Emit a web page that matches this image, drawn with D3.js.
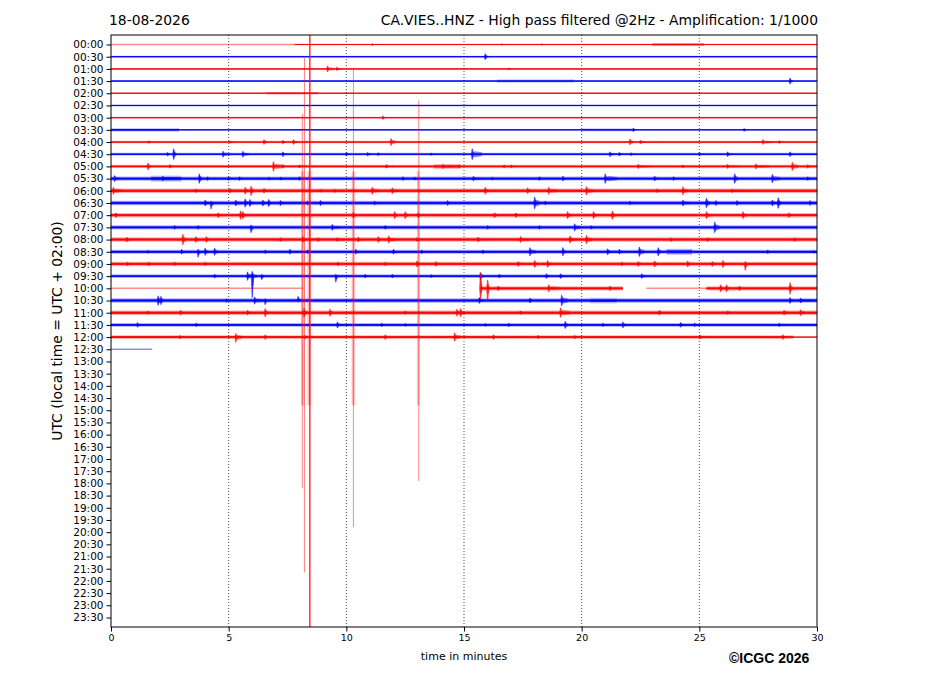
<!DOCTYPE html>
<html>
<head>
<meta charset="utf-8">
<script src="https://cdn.jsdelivr.net/npm/d3@7"></script>
<style>
  body { margin: 0; background: #fff; }
  text { font-family: "DejaVu Sans", sans-serif; fill: #000; }
</style>
</head>
<body>
<div id="chart"></div>
<script>
// Row labels (UTC, every 30 minutes)
const rowLabels = [
  "00:00","00:30","01:00","01:30","02:00","02:30","03:00","03:30",
  "04:00","04:30","05:00","05:30","06:00","06:30","07:00","07:30",
  "08:00","08:30","09:00","09:30","10:00","10:30","11:00","11:30",
  "12:00","12:30","13:00","13:30","14:00","14:30","15:00","15:30",
  "16:00","16:30","17:00","17:30","18:00","18:30","19:00","19:30",
  "20:00","20:30","21:00","21:30","22:00","22:30","23:00","23:30"
];
const minuteTicks = [0, 5, 10, 15, 20, 25, 30];
const gridMinutes = [5, 10, 15, 20, 25];

// Background noise level per row: [fromMinute, toMinute, amplitude (counts)]
const noiseSegments = [
  [[7.8, 23.0, 35], [23.0, 25.2, 80], [25.2, 30, 40]],          // 00:00
  [[0, 30, 50]],                                                 // 00:30
  [[0, 30, 50]],                                                 // 01:00
  [[0, 16.4, 55], [16.4, 19.7, 80], [19.7, 30, 55]],             // 01:30
  [[0, 6.6, 45], [6.6, 8.8, 70], [8.8, 30, 45]],                 // 02:00
  [[0, 30, 50]],                                                 // 02:30
  [[0, 30, 50]],                                                 // 03:00
  [[0, 2.9, 85], [2.9, 20, 50], [20, 22.2, 75], [22.2, 30, 50]], // 03:30
  [[0, 30, 65]],                                                 // 04:00
  [[0, 30, 75]],                                                 // 04:30
  [[0, 13.7, 90], [13.7, 14.8, 130], [14.8, 30, 95]],            // 05:00
  [[0, 1.7, 120], [1.7, 3.0, 160], [3.0, 30, 110]],              // 05:30
  [[0, 30, 125]],                                                // 06:00
  [[0, 30, 120]],                                                // 06:30
  [[0, 30, 120]],                                                // 07:00
  [[0, 30, 110]],                                                // 07:30
  [[0, 30, 125]],                                                // 08:00
  [[0, 23.6, 115], [23.6, 24.7, 160], [24.7, 30, 115]],          // 08:30
  [[0, 30, 120]],                                                // 09:00
  [[0, 30, 100]],                                                // 09:30
  [[15.7, 21.75, 115], [25.3, 30, 115]],                         // 10:00
  [[0, 20.35, 125], [20.35, 21.5, 150], [21.5, 30, 125]],        // 10:30
  [[0, 30, 125]],                                                // 11:00
  [[0, 30, 100]],                                                // 11:30
  [[0, 29.0, 105], [29.0, 30, 40]],                              // 12:00
  []                                                             // 12:30
];

// Flat (dead) stretches of signal: [row, fromMinute, toMinute]
const flatSpans = [[0, 0, 7.8], [20, 0, 8.15], [20, 22.75, 25.3], [25, 0, 1.75]];

// Local events per row: [minute, amplitude up, duration (min), amplitude down]
const bursts = [
  [[11.1, 80, 0.3], [16.6, 60, 0.1], [18.3, 60, 0.1]],
  [[15.9, 250, 0.12]],
  [[9.2, 250, 0.3], [9.6, 150, 0.15], [16.9, 80, 0.1]],
  [[28.85, 250, 0.12]],
  [],
  [],
  [[11.55, 150, 0.12]],
  [[22.2, 150, 0.12], [26.9, 120, 0.1]],
  [[1.6, 100, 0.1], [5.06, 100, 0.1], [6.5, 200, 0.15], [7.3, 150, 0.12], [7.75, 200, 0.15], [11.9, 300, 0.2],
   [22.05, 250, 0.15], [22.5, 150, 0.2], [27.7, 200, 0.4], [28.4, 120, 0.15]],
  [[2.4, 150, 0.1], [2.66, 450, 0.1], [4.76, 250, 0.3], [5.6, 250, 0.25], [7.3, 200, 0.15], [10.0, 150, 0.12],
   [10.9, 150, 0.2], [11.35, 120, 0.1], [13.6, 100, 0.1], [15.35, 450, 0.4], [21.2, 200, 0.2], [21.6, 150, 0.15],
   [22.1, 120, 0.1], [25.0, 150, 0.12], [26.2, 200, 0.2], [28.85, 200, 0.12]],
  [[1.57, 300, 0.12], [2.5, 150, 0.15], [6.9, 400, 0.4], [7.3, 150, 0.12], [8.0, 120, 0.1], [11.7, 150, 0.12],
   [14.1, 180, 0.5], [14.8, 150, 0.1], [16.7, 120, 0.1], [17.0, 120, 0.1], [22.4, 180, 0.5], [24.3, 120, 0.1],
   [26.2, 170, 0.5], [27.4, 220, 0.6], [28.95, 350, 0.25], [29.6, 150, 0.35]],
  [[0.15, 250, 0.2], [2.2, 200, 0.6], [3.75, 400, 0.12], [4.1, 150, 0.1], [5.0, 150, 0.2], [5.45, 150, 0.15],
   [6.7, 120, 0.2], [7.2, 120, 0.2], [8.0, 150, 0.1], [12.4, 150, 0.12], [12.9, 120, 0.1], [15.4, 200, 0.3],
   [16.2, 120, 0.1], [18.2, 150, 0.12], [19.2, 200, 0.12], [21.0, 400, 0.5], [23.1, 200, 0.15], [23.9, 150, 0.12],
   [26.5, 400, 0.15], [28.1, 350, 0.35], [29.6, 150, 0.12]],
  [[0.1, 300, 0.35], [3.6, 150, 0.1], [5.05, 200, 0.12], [5.7, 300, 0.12], [5.95, 400, 0.12], [6.5, 200, 0.12],
   [8.9, 120, 0.1], [9.5, 150, 0.12], [11.1, 300, 0.25], [11.95, 250, 0.3], [15.9, 300, 0.15], [17.7, 250, 0.15],
   [18.6, 300, 0.4], [20.2, 350, 0.3], [23.2, 150, 0.12], [24.3, 350, 0.2], [26.4, 150, 0.9]],
  [[4.0, 250, 0.15], [4.25, 150, 0.1, 500], [5.3, 250, 0.25], [5.7, 350, 0.12], [5.9, 300, 0.1], [6.45, 250, 0.12],
   [6.7, 300, 0.1], [7.2, 200, 0.12], [8.35, 150, 0.1], [8.9, 200, 0.12], [11.2, 150, 0.12], [14.3, 200, 0.12],
   [18.0, 500, 0.2], [18.45, 150, 0.1], [22.05, 150, 0.12], [24.3, 250, 0.3], [25.3, 400, 0.15], [25.7, 200, 0.1],
   [26.6, 200, 0.12], [28.1, 250, 0.12], [28.35, 450, 0.1], [29.7, 200, 0.3]],
  [[0.2, 200, 0.15], [4.55, 200, 0.12], [5.5, 350, 0.12], [5.6, 300, 0.15], [10.3, 250, 0.12], [12.05, 300, 0.12],
   [12.5, 300, 0.12], [13.05, 200, 0.1], [16.3, 200, 0.12], [17.2, 200, 0.12], [19.4, 300, 0.15], [20.5, 300, 0.15],
   [21.3, 350, 0.12], [25.3, 300, 0.2], [26.85, 300, 0.15], [28.8, 200, 0.12]],
  [[2.7, 150, 0.1], [3.7, 150, 0.1], [5.95, 200, 0.1, 450], [9.4, 250, 0.3], [11.65, 150, 0.12], [16.0, 150, 0.1],
   [18.2, 150, 0.1], [19.7, 300, 0.25], [20.4, 150, 0.1], [25.65, 450, 0.2]],
  [[0.67, 200, 0.12], [3.05, 450, 0.12], [3.6, 250, 0.12], [4.05, 250, 0.12], [7.2, 150, 0.1], [8.15, 250, 0.12],
   [8.8, 150, 0.1], [9.6, 150, 0.35], [10.5, 200, 0.12], [11.35, 250, 0.12], [11.8, 300, 0.25], [13.0, 150, 0.1],
   [15.6, 200, 0.12], [17.4, 250, 0.4], [19.5, 300, 0.2], [20.2, 350, 0.25], [23.8, 150, 0.12], [25.35, 150, 0.1],
   [29.05, 150, 0.1]],
  [[1.57, 120, 0.1], [3.0, 200, 0.12], [3.7, 200, 0.1, 450], [4.0, 300, 0.12], [4.4, 300, 0.15], [6.55, 150, 0.1],
   [7.6, 200, 0.12], [8.35, 150, 0.1], [10.4, 200, 0.12], [12.0, 200, 0.12], [13.2, 150, 0.1], [15.8, 150, 0.12],
   [17.8, 350, 0.25], [19.2, 350, 0.12], [21.1, 250, 0.15], [21.6, 200, 0.1], [22.45, 400, 0.2], [23.25, 350, 0.12],
   [27.9, 150, 0.12], [29.85, 100, 0.1]],
  [[0.7, 150, 0.12], [1.6, 150, 0.1], [2.7, 150, 0.1], [4.0, 150, 0.12], [9.65, 150, 0.12], [11.65, 150, 0.1],
   [13.0, 250, 0.12], [13.8, 200, 0.12], [17.3, 200, 0.12], [18.0, 300, 0.12], [18.55, 300, 0.15], [21.7, 150, 0.12],
   [22.4, 200, 0.12], [23.1, 250, 0.12], [24.5, 250, 0.15], [25.55, 200, 0.12], [26.0, 300, 0.12],
   [26.95, 200, 0.1, 550]],
  [[4.4, 150, 0.1], [5.8, 350, 0.4], [6.0, 400, 0.06, 1800], [6.4, 150, 0.1, 300], [9.55, 150, 0.1, 500],
   [10.8, 150, 0.1], [11.95, 150, 0.12], [13.6, 120, 0.1], [15.7, 300, 0.12], [16.5, 150, 0.1], [18.5, 200, 0.12],
   [19.1, 200, 0.12], [22.55, 200, 0.15]],
  [[15.7, 1300, 0.06, 900], [16.0, 700, 0.06, 1000], [16.45, 200, 0.12], [18.6, 300, 0.5], [21.2, 200, 0.12],
   [25.9, 300, 0.12], [26.15, 300, 0.12], [26.7, 200, 0.12], [28.85, 500, 0.1]],
  [[2.0, 400, 0.1], [2.12, 350, 0.1], [4.9, 150, 0.1], [6.1, 300, 0.35], [6.55, 150, 0.1, 350], [7.95, 350, 0.1, 100],
   [15.65, 250, 0.15], [17.8, 200, 0.12], [19.15, 450, 0.25], [28.85, 250, 0.12], [29.3, 200, 0.6]],
  [[1.57, 150, 0.1], [2.95, 200, 0.12], [5.8, 200, 0.12], [6.55, 350, 0.12], [8.2, 400, 0.12], [9.3, 300, 0.12],
   [12.5, 150, 0.1], [14.7, 300, 0.1], [14.85, 350, 0.1], [17.4, 150, 0.12], [19.1, 400, 0.4], [23.3, 200, 0.12],
   [26.2, 150, 0.1], [28.6, 200, 0.15], [29.3, 250, 0.2]],
  [[1.12, 200, 0.12], [3.62, 150, 0.1], [9.62, 250, 0.12], [11.5, 150, 0.12], [12.5, 120, 0.1], [15.9, 120, 0.1],
   [16.9, 150, 0.12], [19.3, 300, 0.12], [20.9, 150, 0.12], [21.75, 250, 0.12], [24.2, 200, 0.12], [24.8, 150, 0.12],
   [28.4, 150, 0.3]],
  [[2.93, 150, 0.1], [5.3, 300, 0.25, 450], [6.55, 200, 0.1], [8.25, 150, 0.1], [11.65, 200, 0.12], [14.6, 350, 0.25],
   [16.25, 200, 0.1], [18.15, 150, 0.12], [19.7, 150, 0.1], [25.05, 150, 0.5], [28.55, 200, 0.12]],
  []
];

// Glitches on the 10:00 row: [minute, amplitude up, amplitude down] (counts)
const glitchRow = 20;
const glitchMain = [[8.45, 30000, 30000]];
const glitchFaint = [[8.13, 14300, 16400], [8.22, 18900, 23300], [10.3, 18000, 19600], [13.08, 15400, 15800]];
// Ringing around the glitches: [minute, amplitude, duration (min)]
const glitchRinging = [[8.15, 9600, 0.15], [8.42, 9600, 0.15], [10.3, 9600, 0.15], [13.06, 9600, 0.12]];

// ---- drawing ----
const margin = { left: 111, top: 35 };
const width = 706;
const height = 592;
const colors = ['#ff0000', '#0000ff'];

const svg = d3.select('#chart')
  .append('svg')
  .attr('width', 927)
  .attr('height', 696);

const x = d3.scaleLinear().domain([0, 30]).range([0, width]);
const y = d3.scalePoint().domain(rowLabels).range([0, height]).padding(0.78);
const amp = d3.scaleLinear().domain([0, 1000]).range([0, y.step()]);

svg.append('defs').append('clipPath')
  .attr('id', 'plot-clip')
  .append('rect')
  .attr('width', width)
  .attr('height', height);

const g = svg.append('g').attr('transform', `translate(${margin.left},${margin.top})`);

// Dotted minute grid
g.selectAll('.grid')
  .data(gridMinutes)
  .enter()
  .append('line')
  .attr('x1', d => x(d)).attr('x2', d => x(d))
  .attr('y1', 0).attr('y2', height)
  .attr('stroke', '#000')
  .attr('stroke-width', 0.7)
  .attr('stroke-dasharray', '1,2');

const traces = g.append('g').attr('clip-path', 'url(#plot-clip)');

const band = d3.area()
  .x(d => x(d[0]))
  .y0(d => d[2] + amp(d[1]))
  .y1(d => d[2] - amp(d[1]));

// Noise bands: pale fringe + solid core
noiseSegments.forEach((segs, i) => {
  const yc = y(rowLabels[i]);
  const color = colors[i % 2];
  segs.forEach(s => {
    traces.append('path')
      .attr('d', band([[s[0], s[2] * 1.5, yc], [s[1], s[2] * 1.5, yc]]))
      .attr('fill', color)
      .attr('fill-opacity', 0.3);
    traces.append('path')
      .attr('d', band([[s[0], s[2] * 0.8, yc], [s[1], s[2] * 0.8, yc]]))
      .attr('fill', color)
      .attr('fill-opacity', 0.85);
    traces.append('line')
      .attr('x1', x(s[0])).attr('x2', x(s[1]))
      .attr('y1', yc).attr('y2', yc)
      .attr('stroke', color)
      .attr('stroke-width', 1);
  });
});

// Flat stretches
traces.selectAll('.flat')
  .data(flatSpans)
  .enter()
  .append('line')
  .attr('x1', d => x(d[1])).attr('x2', d => x(d[2]))
  .attr('y1', d => y(rowLabels[d[0]])).attr('y2', d => y(rowLabels[d[0]]))
  .attr('stroke', d => colors[d[0] % 2])
  .attr('stroke-opacity', 0.45)
  .attr('stroke-width', 1.5);

// Events: a peak plus a lower envelope over the event duration
const spindle = d3.area()
  .x(d => x(d[0]))
  .y0(d => d[3] + amp(d[2]))
  .y1(d => d[3] - amp(d[1]));

bursts.forEach((list, i) => {
  const yc = y(rowLabels[i]);
  const color = colors[i % 2];
  const ev = traces.selectAll(null)
    .data(list)
    .enter()
    .append('g');
  ev.append('path')
    .attr('d', b => {
      const down = b[3] === undefined ? b[1] : b[3];
      return spindle([
        [b[0] - 0.03, b[1] * 0.35, down * 0.35, yc],
        [b[0] + b[2] * 0.3, b[1] * 0.55, down * 0.55, yc],
        [b[0] + b[2], b[1] * 0.35, down * 0.35, yc],
        [b[0] + b[2] + 0.04, 0, 0, yc]
      ]);
    })
    .attr('fill', color)
    .attr('fill-opacity', 0.45);
  ev.append('path')
    .attr('d', b => {
      const down = b[3] === undefined ? b[1] : b[3];
      return spindle([
        [b[0] - 0.04, 0, 0, yc],
        [b[0] - 0.01, b[1], down, yc],
        [b[0] + 0.02, b[1] * 0.9, down * 0.9, yc],
        [b[0] + 0.06, 0, 0, yc]
      ]);
    })
    .attr('fill', color)
    .attr('fill-opacity', 0.75)
    .attr('stroke', color)
    .attr('stroke-width', 0.6)
    .attr('stroke-opacity', 0.5);
});

// Glitches on the 10:00 trace
const gy = y(rowLabels[glitchRow]);
const gColor = colors[glitchRow % 2];

traces.selectAll('.ring')
  .data(glitchRinging)
  .enter()
  .append('rect')
  .attr('x', d => x(d[0] - d[2] / 2))
  .attr('width', d => x(d[2]) - x(0))
  .attr('y', d => gy - amp(d[1]))
  .attr('height', d => 2 * amp(d[1]))
  .attr('fill', gColor)
  .attr('fill-opacity', 0.25);

traces.selectAll('.glitch-faint')
  .data(glitchFaint)
  .enter()
  .append('line')
  .attr('x1', d => x(d[0])).attr('x2', d => x(d[0]))
  .attr('y1', d => gy - amp(d[1])).attr('y2', d => gy + amp(d[2]))
  .attr('stroke', gColor)
  .attr('stroke-opacity', 0.55)
  .attr('stroke-width', 0.9);

traces.selectAll('.glitch-main')
  .data(glitchMain)
  .enter()
  .append('line')
  .attr('x1', d => x(d[0])).attr('x2', d => x(d[0]))
  .attr('y1', d => gy - amp(d[1])).attr('y2', d => gy + amp(d[2]))
  .attr('stroke', gColor)
  .attr('stroke-width', 1.2);

// Frame
g.append('rect')
  .attr('width', width)
  .attr('height', height)
  .attr('fill', 'none')
  .attr('stroke', '#000')
  .attr('stroke-width', 1);

// Axes
const yAxis = g.append('g')
  .call(d3.axisLeft(y).tickSize(4.5).tickPadding(3));
yAxis.select('.domain').remove();
yAxis.selectAll('text').style('font-size', '10.5px');

const xAxis = g.append('g')
  .attr('transform', `translate(0,${height})`)
  .call(d3.axisBottom(x).tickValues(minuteTicks).tickFormat(d3.format('d')).tickSize(4.5).tickPadding(3));
xAxis.select('.domain').remove();
xAxis.selectAll('text').style('font-size', '9.5px');

// Titles and labels
svg.append('text')
  .attr('x', 109).attr('y', 25)
  .style('font-size', '13.9px')
  .text('18-08-2026');

svg.append('text')
  .attr('x', 818).attr('y', 25)
  .attr('text-anchor', 'end')
  .style('font-size', '13.9px')
  .text('CA.VIES..HNZ - High pass filtered @2Hz - Amplification: 1/1000');

svg.append('text')
  .attr('transform', 'translate(62,331) rotate(-90)')
  .attr('text-anchor', 'middle')
  .style('font-size', '13.9px')
  .text('UTC (local time = UTC + 02:00)');

svg.append('text')
  .attr('x', 464).attr('y', 660)
  .attr('text-anchor', 'middle')
  .style('font-size', '11px')
  .text('time in minutes');

svg.append('text')
  .attr('x', 729).attr('y', 663)
  .style('font-family', '"Liberation Sans", Arial, sans-serif')
  .style('font-weight', 'bold')
  .style('font-size', '14px')
  .text('©ICGC 2026');
</script>
</body>
</html>
